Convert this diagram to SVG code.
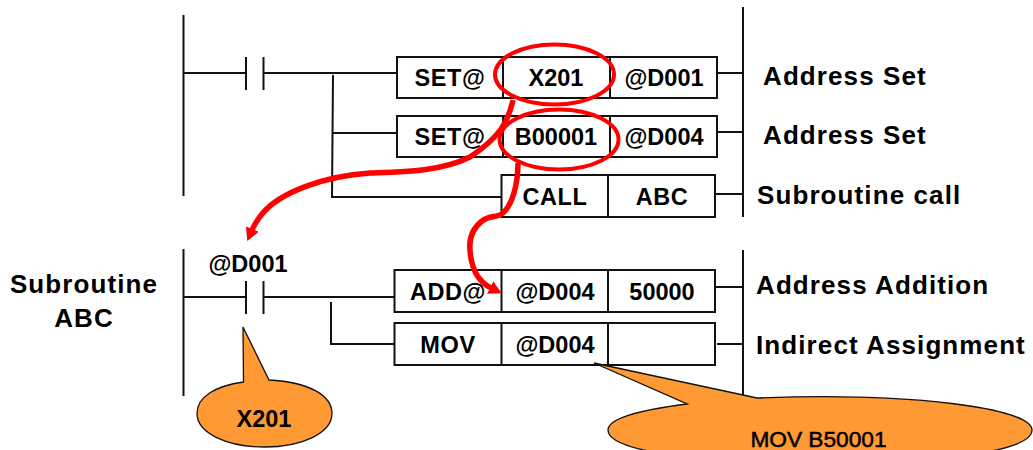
<svg xmlns="http://www.w3.org/2000/svg" width="1033" height="450" viewBox="0 0 1033 450">
<style>
text{font-family:"Liberation Sans",Arial,sans-serif;font-weight:700;fill:#000}
.b{font-size:23.5px;text-anchor:middle}
.s{letter-spacing:.6px}
.l{font-size:26px;letter-spacing:1.1px}
.w{stroke:#111;stroke-width:2;fill:none}
.box{fill:#fff;stroke:#111;stroke-width:2}
.ring{fill:none;stroke:#f00;stroke-width:4}
.red{fill:none;stroke:#f00;stroke-width:5.500;stroke-linecap:butt}
.call{fill:#f93;stroke:#111;stroke-width:1.3}
</style>
<defs>
<marker id="ah" markerUnits="userSpaceOnUse" markerWidth="16" markerHeight="16" refX="1" refY="8" orient="auto"><path d="M0 1L13 8L0 15Z" fill="#f00"/></marker>
</defs>
<g id="rails" class="w">
<path d="M183.500 15V196M743 7V217M183.500 249V396M743 250V397"/>
</g>
<g id="connectors" class="w">
<path d="M184 73H246M246 57V90M263.500 57V90M263.500 73H397M333 75L332 197H501.500M333 133H397M717 73H743M717 132H743M716 194H743"/>
<path d="M184 297H246M246 281V314M263.500 281V314M263.500 297H394.500M331 302V344H401M716 287H743M717 344H743"/>
</g>
<g id="row-set1">
<rect class="box" x="397" y="57" width="320" height="41"/><path class="w" d="M503 57V98M610 57V98"/>
<text class="b s" x="450" y="86">SET@</text><text class="b" x="556" y="86">X201</text><text class="b" x="664" y="86">@D001</text>
</g>
<g id="row-set2">
<rect class="box" x="397" y="116" width="320" height="41"/><path class="w" d="M503 116V157M610 116V157"/>
<text class="b s" x="450" y="145">SET@</text><text class="b" x="556" y="145">B00001</text><text class="b" x="664" y="145">@D004</text>
</g>
<g id="row-call">
<rect class="box" x="501.500" y="175" width="213.500" height="42"/><path class="w" d="M608 175V217"/>
<text class="b s" x="555" y="205">CALL</text><text class="b s" x="662" y="205">ABC</text>
</g>
<g id="row-add">
<rect class="box" x="394.500" y="270" width="320.500" height="42"/><path class="w" d="M501.500 270V312M608 270V312"/>
<text class="b s" x="448" y="300">ADD@</text><text class="b" x="555" y="300">@D004</text><text class="b" x="662" y="300">50000</text>
</g>
<g id="row-mov">
<rect class="box" x="394.500" y="323" width="320.500" height="42"/><path class="w" d="M501.500 323V365M608 323V365"/>
<text class="b s" x="448" y="353">MOV</text><text class="b" x="555" y="353">@D004</text>
</g>
<g id="labels">
<text class="l" x="763" y="85">Address Set</text>
<text class="l" x="763" y="144">Address Set</text>
<text class="l" x="757" y="204">Subroutine call</text>
<text class="l" x="756" y="294">Address Addition</text>
<text class="l" x="756" y="354">Indirect Assignment</text>
<text class="b" x="248" y="272">@D001</text>
<text class="l" text-anchor="middle" x="84" y="293">Subroutine</text>
<text class="l" text-anchor="middle" x="84" y="327">ABC</text>
</g>
<g id="highlights">
<ellipse id="ring-x201" class="ring" cx="554.500" cy="74.500" rx="59.500" ry="30"/>
<ellipse id="ring-b00001" class="ring" cx="559" cy="139.500" rx="59.500" ry="30"/>
<path class="red" marker-end="url(#ah)" d="M513 100C508 122 500 137 470 157C440 172 400 172 370 173C325 176 280 192 262 214C258 219 255 223 252 230"/>
<path class="red" marker-end="url(#ah)" d="M518 163C518 185 512 205 503 213C497 218 490 215 482 221C472 229 469 240 470 250C471 266 477 281 491 288"/>
</g>
<g id="callout-x201">
<path class="call" d="M243 327L269 380C310 382 332 396 332 413.500C332 433 302 447 264.500 447C227 447 197 433 197 413.500C197 397 215 386 243.500 382Z"/>
<text class="b" x="264" y="427">X201</text>
</g>
<g id="callout-mov">
<path class="call" d="M594 363L757 398C910 392 1032 408 1032 430C1032 452 937 463 820 463C703 463 608 452 608 430C608 418 640 410 687 404Z"/>
<text x="818.500" y="447" text-anchor="middle" style="font-size:22.700px;font-weight:400;stroke:#000;stroke-width:.5">MOV B50001</text>
</g>
</svg>
